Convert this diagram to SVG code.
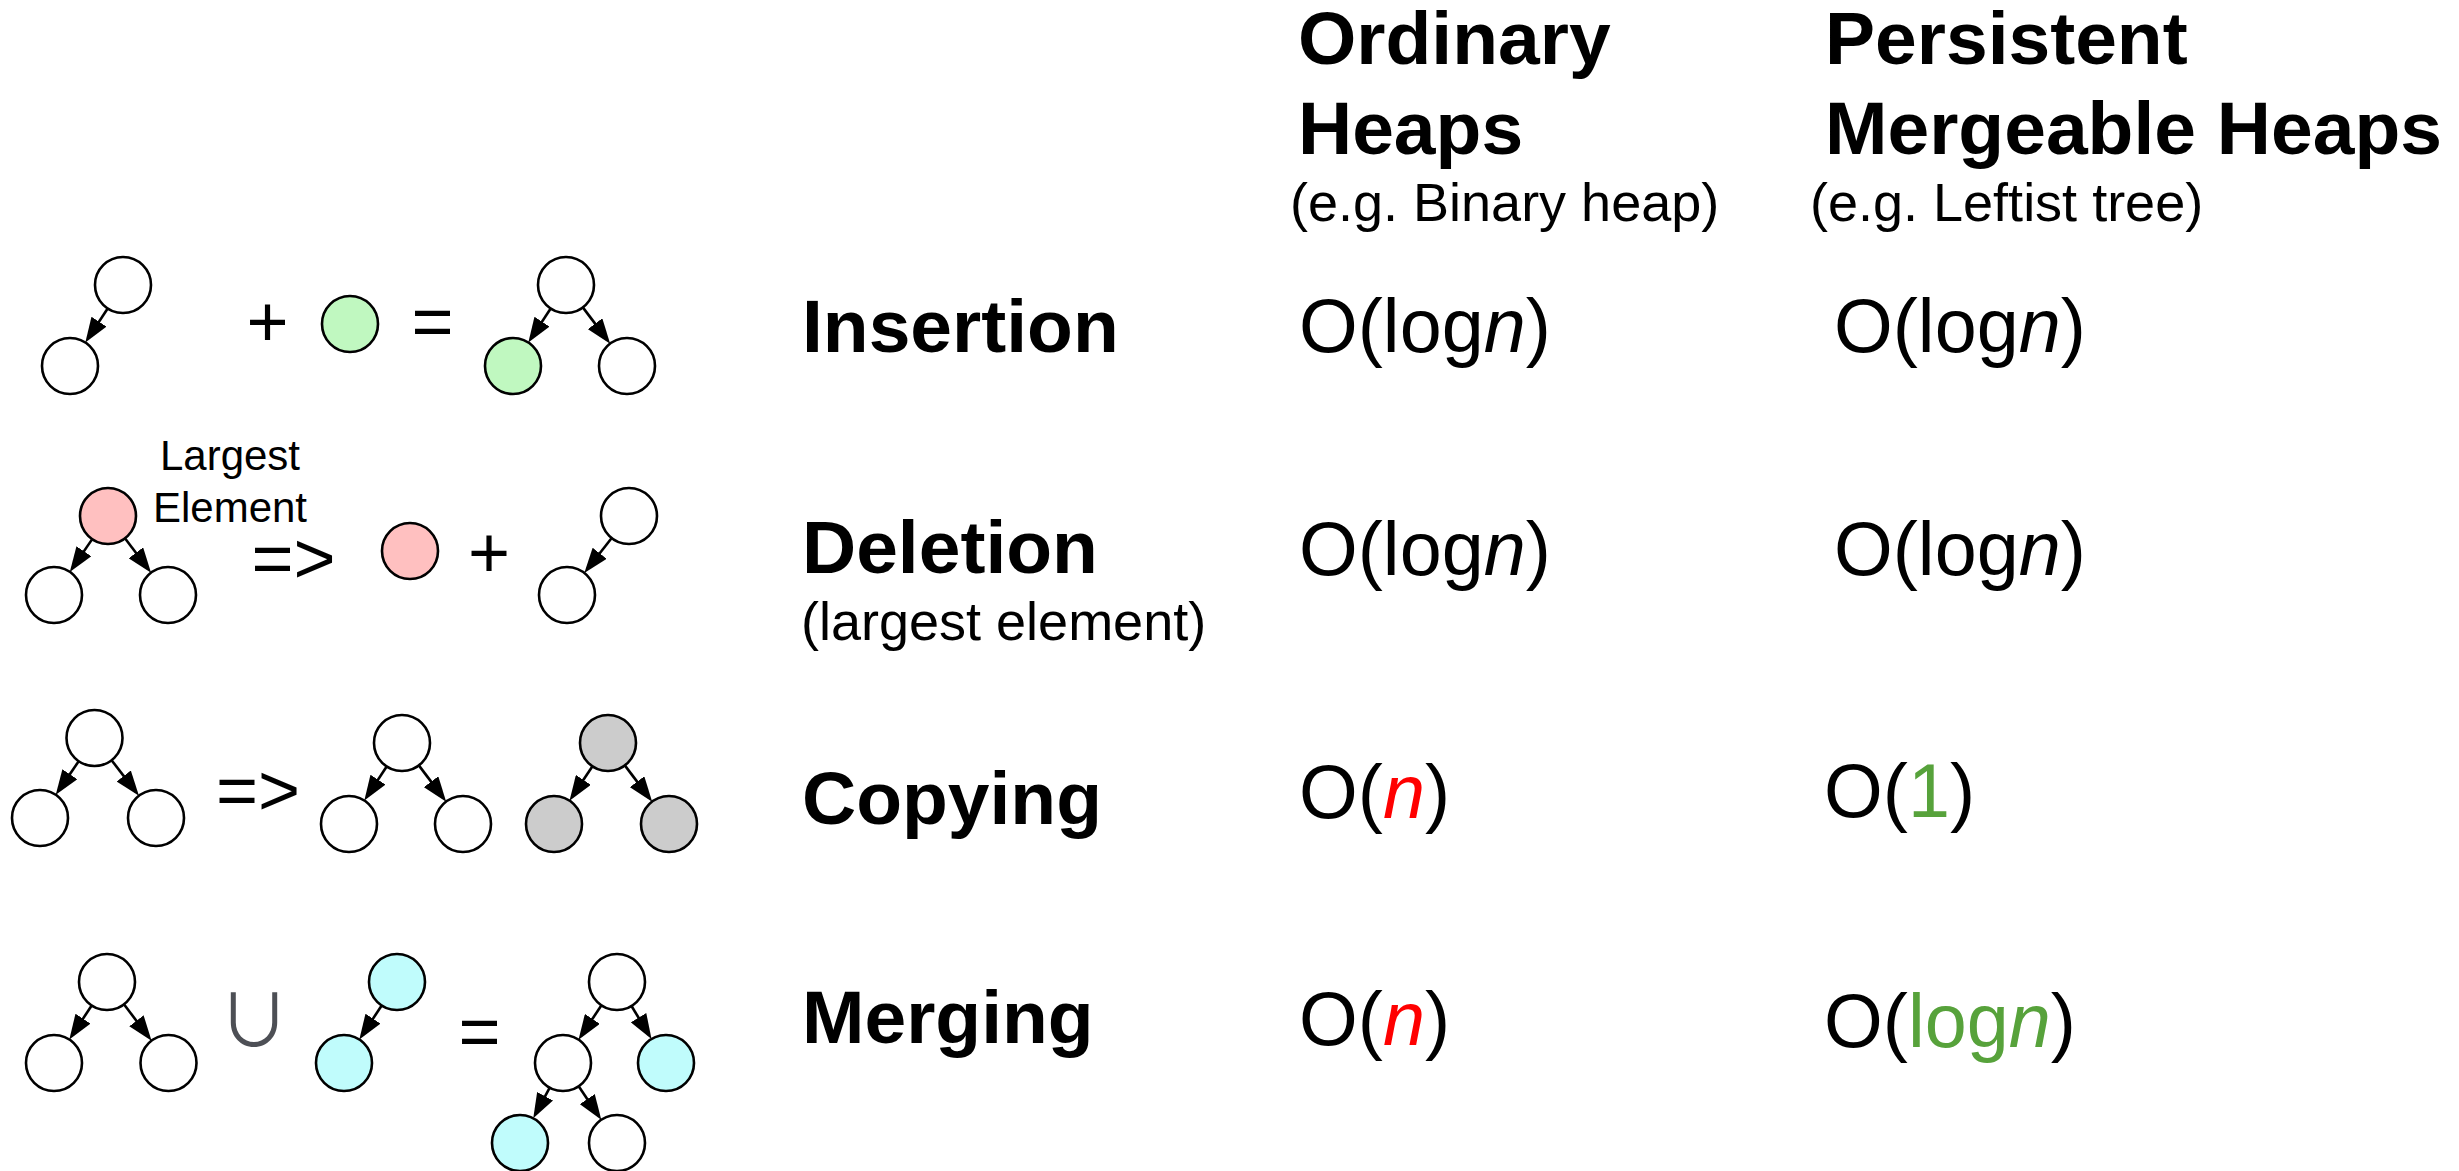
<svg xmlns="http://www.w3.org/2000/svg" width="2459" height="1171" viewBox="0 0 2459 1171">
  <style>
    text { font-family: "Liberation Sans", Arial, sans-serif; fill: #000; }
    .head { font-size: 75px; font-weight: bold; }
    .sub { font-size: 54px; }
    .op { font-size: 75px; font-weight: bold; }
    .cx { font-size: 75.5px; }
    .sym { font-size: 72px; }
    .union { font-family: "Noto Sans CJK JP", "DejaVu Sans", sans-serif; font-size: 72px; fill: #4d4f55; }
    .note { font-size: 42px; }
    .it { font-style: italic; }
    .red { fill: #ff0000; }
    .grn { fill: #57a23b; }
    .node { stroke: #000; stroke-width: 2.6; }
    .white { fill: #ffffff; }
    .green { fill: #c0f8c0; }
    .pink { fill: #ffc0c0; }
    .gray { fill: #cccccc; }
    .cyan { fill: #c0fcfc; }
    .edge { stroke: #000; stroke-width: 2.6; fill: none; marker-end: url(#head); }
  </style>
  <defs>
    <marker id="head" markerUnits="userSpaceOnUse" markerWidth="25" markerHeight="18" refX="20" refY="9" orient="auto">
      <path d="M0,0 L25,9 L0,18 z" fill="#000"/>
    </marker>
  </defs>

  <rect width="2459" height="1171" fill="#ffffff"/>

  <!-- column headers -->
  <g id="col-ordinary">
    <text class="head" x="1298" y="64">Ordinary</text>
    <text class="head" x="1298" y="154">Heaps</text>
    <text class="sub" x="1290" y="221">(e.g. Binary heap)</text>
  </g>
  <g id="col-persistent">
    <text class="head" x="1825" y="64">Persistent</text>
    <text class="head" x="1825" y="154">Mergeable Heaps</text>
    <text class="sub" x="1810" y="221">(e.g. Leftist tree)</text>
  </g>

  <!-- operation names -->
  <g id="op-insertion"><text class="op" x="802" y="352">Insertion</text></g>
  <g id="op-deletion">
    <text class="op" x="802" y="573">Deletion</text>
    <text class="sub" x="801" y="640">(largest element)</text>
  </g>
  <g id="op-copying"><text class="op" x="802" y="824">Copying</text></g>
  <g id="op-merging"><text class="op" x="802" y="1043">Merging</text></g>

  <!-- complexities -->
  <g id="cost-ordinary">
    <text class="cx" x="1299" y="352">O(log<tspan class="it">n</tspan>)</text>
    <text class="cx" x="1299" y="575">O(log<tspan class="it">n</tspan>)</text>
    <text class="cx" x="1299" y="818">O(<tspan class="it red">n</tspan>)</text>
    <text class="cx" x="1299" y="1045">O(<tspan class="it red">n</tspan>)</text>
  </g>
  <g id="cost-persistent">
    <text class="cx" x="1834" y="352">O(log<tspan class="it">n</tspan>)</text>
    <text class="cx" x="1834" y="575">O(log<tspan class="it">n</tspan>)</text>
    <text class="cx" x="1824" y="817">O(<tspan class="grn">1</tspan>)</text>
    <text class="cx" x="1824" y="1047">O(<tspan class="grn">log</tspan><tspan class="it grn">n</tspan>)</text>
  </g>

  <!-- operators between the small trees -->
  <g id="operators">
    <text class="sym" x="267.5" y="346" text-anchor="middle">+</text>
    <text class="sym" x="432.5" y="346" text-anchor="middle">=</text>
    <text class="sym" x="293.5" y="583" text-anchor="middle">=&gt;</text>
    <text class="sym" x="489" y="577" text-anchor="middle">+</text>
    <text class="sym" x="258" y="815" text-anchor="middle">=&gt;</text>
    <text class="union" x="254" y="1046" text-anchor="middle">∪</text>
    <text class="sym" x="479.5" y="1056" text-anchor="middle">=</text>
  </g>

  <g id="label-largest">
    <text class="note" x="230" y="470" text-anchor="middle">Largest</text>
    <text class="note" x="230" y="522" text-anchor="middle">Element</text>
  </g>

  <!-- parent-to-child links -->
  <g id="connectors">
    <line class="edge" x1="107.67" y1="308.43" x2="88.07" y2="338.39"/>
    <line class="edge" x1="550.67" y1="308.43" x2="531.07" y2="338.39"/>
    <line class="edge" x1="582.84" y1="307.37" x2="607.15" y2="339.64"/>
    <line class="edge" x1="92.2" y1="539.12" x2="72.62" y2="567.76"/>
    <line class="edge" x1="124.93" y1="538.3" x2="148.04" y2="568.72"/>
    <line class="edge" x1="611.71" y1="538.03" x2="587.38" y2="569.03"/>
    <line class="edge" x1="78.74" y1="761.14" x2="58.58" y2="790.73"/>
    <line class="edge" x1="111.57" y1="760.2" x2="135.89" y2="791.84"/>
    <line class="edge" x1="386.67" y1="766.43" x2="367.07" y2="796.39"/>
    <line class="edge" x1="418.84" y1="765.37" x2="443.15" y2="797.64"/>
    <line class="edge" x1="592.47" y1="766.3" x2="572.31" y2="796.54"/>
    <line class="edge" x1="624.84" y1="765.37" x2="649.15" y2="797.64"/>
    <line class="edge" x1="91.67" y1="1005.43" x2="72.07" y2="1035.39"/>
    <line class="edge" x1="123.93" y1="1004.3" x2="148.54" y2="1036.72"/>
    <line class="edge" x1="381.67" y1="1005.43" x2="362.07" y2="1035.39"/>
    <line class="edge" x1="601.47" y1="1005.3" x2="581.31" y2="1035.54"/>
    <line class="edge" x1="631.49" y1="1005.96" x2="648.92" y2="1034.76"/>
    <line class="edge" x1="549.74" y1="1087.66" x2="535.62" y2="1113.93"/>
    <line class="edge" x1="578.67" y1="1086.21" x2="598.46" y2="1115.65"/>
  </g>

  <!-- insertion -->
  <g id="ins-a1"><circle class="node white" cx="123" cy="285" r="28"/></g>
  <g id="ins-a2"><circle class="node white" cx="70" cy="366" r="28"/></g>
  <g id="ins-new"><circle class="node green" cx="350" cy="324" r="28"/></g>
  <g id="ins-b1"><circle class="node white" cx="566" cy="285" r="28"/></g>
  <g id="ins-b2"><circle class="node green" cx="513" cy="366" r="28"/></g>
  <g id="ins-b3"><circle class="node white" cx="627" cy="366" r="28"/></g>

  <!-- deletion -->
  <g id="del-c1"><circle class="node pink" cx="108" cy="516" r="28"/></g>
  <g id="del-c2"><circle class="node white" cx="54" cy="595" r="28"/></g>
  <g id="del-c3"><circle class="node white" cx="168" cy="595" r="28"/></g>
  <g id="del-max"><circle class="node pink" cx="410" cy="551" r="28"/></g>
  <g id="del-e1"><circle class="node white" cx="629" cy="516" r="28"/></g>
  <g id="del-e2"><circle class="node white" cx="567" cy="595" r="28"/></g>

  <!-- copying -->
  <g id="copy-f1"><circle class="node white" cx="94.5" cy="738" r="28"/></g>
  <g id="copy-f2"><circle class="node white" cx="40" cy="818" r="28"/></g>
  <g id="copy-f3"><circle class="node white" cx="156" cy="818" r="28"/></g>
  <g id="copy-h1"><circle class="node white" cx="402" cy="743" r="28"/></g>
  <g id="copy-h2"><circle class="node white" cx="349" cy="824" r="28"/></g>
  <g id="copy-h3"><circle class="node white" cx="463" cy="824" r="28"/></g>
  <g id="copy-k1"><circle class="node gray" cx="608" cy="743" r="28"/></g>
  <g id="copy-k2"><circle class="node gray" cx="554" cy="824" r="28"/></g>
  <g id="copy-k3"><circle class="node gray" cx="669" cy="824" r="28"/></g>

  <!-- merging -->
  <g id="merge-m1"><circle class="node white" cx="107" cy="982" r="28"/></g>
  <g id="merge-m2"><circle class="node white" cx="54" cy="1063" r="28"/></g>
  <g id="merge-m3"><circle class="node white" cx="168.5" cy="1063" r="28"/></g>
  <g id="merge-n1"><circle class="node cyan" cx="397" cy="982" r="28"/></g>
  <g id="merge-n2"><circle class="node cyan" cx="344" cy="1063" r="28"/></g>
  <g id="merge-q1"><circle class="node white" cx="617" cy="982" r="28"/></g>
  <g id="merge-q2"><circle class="node white" cx="563" cy="1063" r="28"/></g>
  <g id="merge-q3"><circle class="node cyan" cx="666" cy="1063" r="28"/></g>
  <g id="merge-q4"><circle class="node cyan" cx="520" cy="1143" r="28"/></g>
  <g id="merge-q5"><circle class="node white" cx="617" cy="1143" r="28"/></g>
</svg>
